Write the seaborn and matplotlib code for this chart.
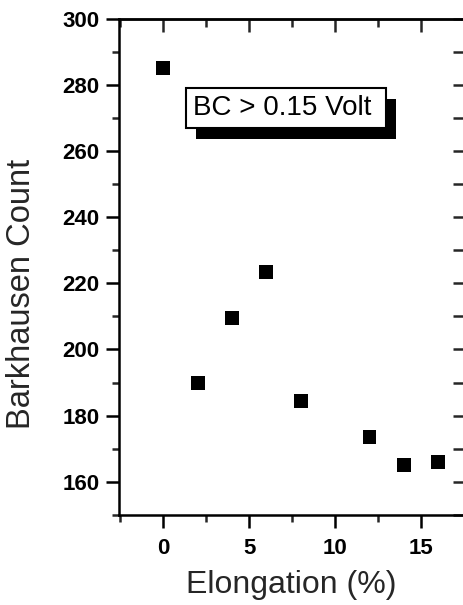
import numpy as np
import matplotlib
matplotlib.use('Agg')
import matplotlib.pyplot as plt
import matplotlib.patheffects as pe
from matplotlib.ticker import MultipleLocator
import seaborn as sns
import pandas as pd

# data
elongation = [0, 2, 4, 6, 8, 12, 14, 16]
bh_count = [285, 190, 209.5, 223.5, 184.5, 173.5, 165, 166]
box_text = 'BC > 0.15 Volt'

sns.set_style('ticks')
plt.rcParams['font.family'] = ['Liberation Sans', 'DejaVu Sans']

df = pd.DataFrame({'x': elongation, 'y': bh_count})

fig = plt.figure(figsize=(4.64, 6.05), dpi=100)
ax = fig.add_axes([0.2554, 0.1488, 0.7446, 0.8206])

sns.scatterplot(data=df, x='x', y='y', marker='s', s=100, color='black',
                edgecolor='none', ax=ax, legend=False)

ax.set_xlim(-2.6, 17.5)
ax.set_ylim(150, 300)
ax.xaxis.set_major_locator(MultipleLocator(5))
ax.xaxis.set_minor_locator(MultipleLocator(2.5))
ax.yaxis.set_minor_locator(MultipleLocator(10))
ax.set_yticks(np.arange(160, 301, 20))

lw = 1.8
for sp in ['left', 'bottom', 'top']:
    ax.spines[sp].set_linewidth(lw)
    ax.spines[sp].set_color('black')
ax.spines['right'].set_visible(False)

ax.tick_params(which='major', direction='out', length=9.5, width=lw,
               labelsize=16, pad=4, colors='black')
ax.tick_params(axis='x', which='major', pad=7)
ax.tick_params(which='minor', direction='out', length=5, width=lw)
for lab in ax.get_xticklabels() + ax.get_yticklabels():
    lab.set_fontweight('bold')

# mirrored ticks pointing inward on top and right
top = ax.secondary_xaxis('top')
top.xaxis.set_major_locator(MultipleLocator(5))
top.xaxis.set_minor_locator(MultipleLocator(2.5))
top.tick_params(which='major', direction='in', length=9.5, width=lw, labeltop=False)
top.tick_params(which='minor', direction='in', length=6, width=lw)
top.spines['top'].set_linewidth(lw)

right = ax.secondary_yaxis('right')
right.yaxis.set_major_locator(MultipleLocator(20))
right.yaxis.set_minor_locator(MultipleLocator(10))
right.tick_params(which='both', direction='in', length=8, width=lw, labelright=False)
right.spines['right'].set_visible(False)

ax.set_xlabel('Elongation (%)', fontsize=23, labelpad=8)
ax.set_ylabel('Barkhausen Count', fontsize=23.5)
ax.yaxis.set_label_coords(-0.236, 0.445)

# boxed note with drop shadow
note = ax.text(1.75, 273, box_text + ' ', fontsize=20, color='black',
               va='center', ha='left',
               bbox=dict(boxstyle='square,pad=0.25', fc='white', ec='black', lw=1.5))
note.get_bbox_patch().set_path_effects([
    pe.SimplePatchShadow(offset=(7, -8), shadow_rgbFace='black', alpha=1.0),
    pe.Normal()])

fig.savefig('out.png', dpi=100)
